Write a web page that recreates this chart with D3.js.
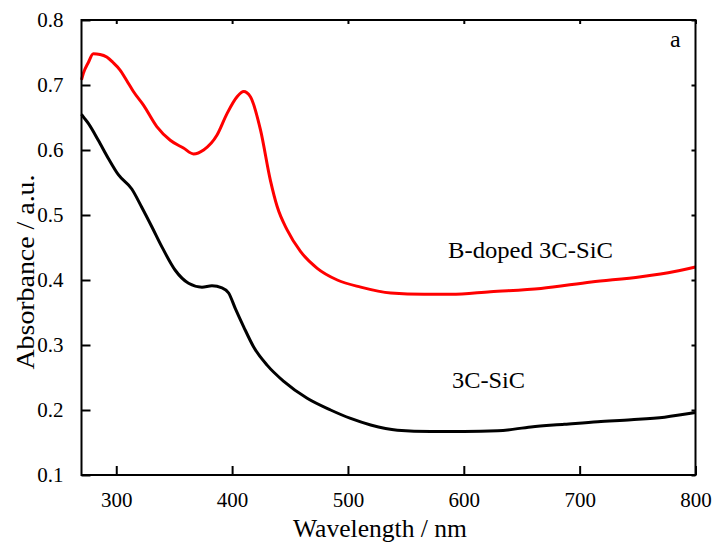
<!DOCTYPE html>
<html>
<head>
<meta charset="utf-8">
<script src="https://cdn.jsdelivr.net/npm/d3@7"></script>
<style>
  body { margin: 0; background: #fff; }
</style>
</head>
<body>
<div id="chart"></div>
<script>
// wavelength (nm) / absorbance
let dopedWl  = [270, 271.6, 276, 280.2, 286, 291.8, 297, 303.3, 309, 314.8, 323.5, 335, 346.6, 358, 366.7, 375.4, 387, 395.6, 404.3, 410, 415.8, 424.5, 433.1, 438.9, 447.5, 459, 473.5, 490.8, 511, 537, 565.7, 589, 623, 666.6, 710, 753, 782, 800];
let dopedAbs = [0.708, 0.718, 0.735, 0.748, 0.747, 0.743, 0.735, 0.723, 0.707, 0.690, 0.669, 0.636, 0.615, 0.603, 0.594, 0.600, 0.623, 0.656, 0.682, 0.690, 0.682, 0.631, 0.553, 0.513, 0.477, 0.444, 0.418, 0.400, 0.389, 0.380, 0.378, 0.378, 0.382, 0.387, 0.397, 0.405, 0.413, 0.420];

let pureWl  = [270, 271.6, 275.9, 284.5, 293.2, 301.8, 313.4, 322, 330.7, 339.4, 350.9, 362.4, 374, 382.6, 391.3, 397, 402.8, 410, 418.6, 430.2, 444.6, 464.8, 485, 502.3, 519.6, 542.7, 571.5, 600.3, 629.2, 658, 686.8, 715.7, 744.5, 773.3, 800];
let pureAbs = [0.655, 0.651, 0.641, 0.615, 0.587, 0.562, 0.540, 0.512, 0.482, 0.451, 0.415, 0.395, 0.389, 0.391, 0.388, 0.380, 0.356, 0.328, 0.297, 0.269, 0.244, 0.218, 0.200, 0.187, 0.177, 0.169, 0.167, 0.167, 0.168, 0.174, 0.178, 0.182, 0.185, 0.189, 0.196];

let xTicks = [300, 400, 500, 600, 700, 800];
let yTicks = [0.1, 0.2, 0.3, 0.4, 0.5, 0.6, 0.7, 0.8];

let width = 715, height = 552;
let mLeft = 81.5, mRight = 695.5, mTop = 20, mBottom = 475;
let serif = '"Liberation Serif", "Times New Roman", Times, serif';

let svg = d3.select("#chart").append("svg").attr("width", width).attr("height", height);

let x = d3.scaleLinear().domain([270, 800]).range([mLeft, mRight]);
let y = d3.scaleLinear().domain([0.1, 0.8]).range([mBottom, mTop]);

let line = d3.line()
  .x(d => x(d[0]))
  .y(d => y(d[1]))
  .curve(d3.curveMonotoneX);

svg.append("path")
  .datum(d3.zip(dopedWl, dopedAbs))
  .attr("d", line)
  .attr("fill", "none")
  .attr("stroke", "#ff0000")
  .attr("stroke-width", 3);

svg.append("path")
  .datum(d3.zip(pureWl, pureAbs))
  .attr("d", line)
  .attr("fill", "none")
  .attr("stroke", "#000")
  .attr("stroke-width", 3);

// axes, ticks pointing in
let fmt = d3.format(".1f");
let bottomAxis = svg.append("g").attr("transform", `translate(0,${mBottom})`)
  .call(d3.axisBottom(x).tickValues(xTicks).tickSizeInner(-9).tickSizeOuter(0).tickPadding(17));
let leftAxis = svg.append("g").attr("transform", `translate(${mLeft},0)`)
  .call(d3.axisLeft(y).tickValues(yTicks).tickFormat(fmt).tickSizeInner(-9).tickSizeOuter(0).tickPadding(18));
let topAxis = svg.append("g").attr("transform", `translate(0,${mTop})`)
  .call(d3.axisTop(x).tickValues(xTicks).tickSizeInner(-4).tickSizeOuter(0).tickFormat(""));
let rightAxis = svg.append("g").attr("transform", `translate(${mRight},0)`)
  .call(d3.axisRight(y).tickValues(yTicks).tickSizeInner(-4).tickSizeOuter(0).tickFormat(""));

[bottomAxis, leftAxis, topAxis, rightAxis].forEach(g => {
  g.attr("font-family", serif).attr("font-size", 21);
  g.select(".domain").remove();
  g.selectAll(".tick line").attr("stroke", "#000").attr("stroke-width", 2);
  g.selectAll(".tick text").style("font-family", serif).style("font-size", "21px").attr("fill", "#000");
});

svg.append("rect")
  .attr("x", mLeft).attr("y", mTop)
  .attr("width", mRight - mLeft).attr("height", mBottom - mTop)
  .attr("fill", "none").attr("stroke", "#000").attr("stroke-width", 2);

// titles and labels
function label(tx, ty, str, size, len, anchor) {
  let t = svg.append("text")
    .attr("x", tx).attr("y", ty)
    .attr("text-anchor", anchor || "start")
    .style("font-family", serif)
    .style("font-size", size + "px")
    .attr("fill", "#000")
    .text(str);
  if (len) t.attr("textLength", len).attr("lengthAdjust", "spacingAndGlyphs");
  return t;
}

label(380, 537, "Wavelength / nm", 25, 174, "middle");
label(0, 0, "Absorbance / a.u.", 26, 195, "middle")
  .attr("transform", "translate(34,272) rotate(-90)");
label(448, 258, "B-doped 3C-SiC", 24, 165);
label(452, 388, "3C-SiC", 24, 73);
label(670, 47, "a", 24);
</script>
</body>
</html>
